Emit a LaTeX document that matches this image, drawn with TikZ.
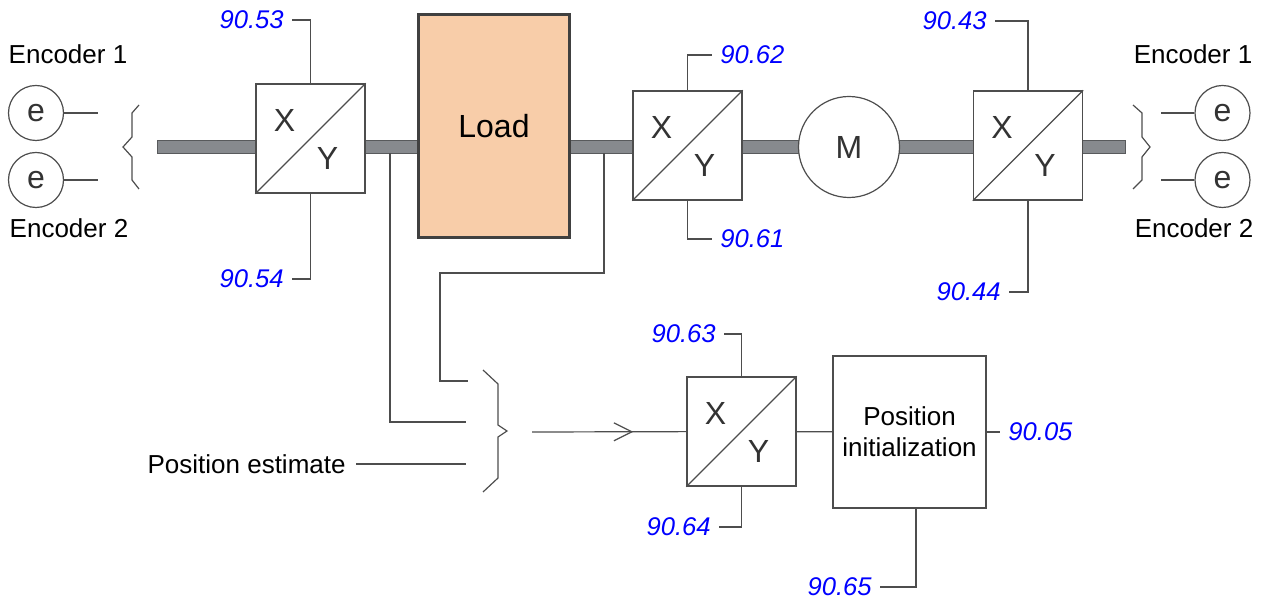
\documentclass[tikz,border=0pt]{standalone}
\usepackage{fontspec}
\setmainfont{Liberation Sans}
\usetikzlibrary{arrows.meta,decorations.markings,positioning}
\definecolor{linegray}{HTML}{4D4D4D}
\definecolor{framegray}{HTML}{404040}
\definecolor{shaftgray}{HTML}{878A8E}
\definecolor{loadfill}{HTML}{F8CDA9}
\definecolor{parblue}{HTML}{0000FF}
\definecolor{glyphgray}{HTML}{333333}

\begin{document}
\begin{tikzpicture}[x=0.5pt,y=-0.5pt,
	wire/.style={draw=linegray,line width=0.6pt},
	shaft/.style={fill=shaftgray,draw=shaftgray!65!black,line width=0.4pt},
	conv/.style={draw=linegray,fill=white,line width=0.7pt,minimum size=54.5pt,inner sep=0pt},
	enc/.style={circle,draw=linegray,fill=white,line width=0.6pt,minimum size=27.5pt,inner sep=0pt,
		text=glyphgray,font=\fontsize{16}{18}\selectfont},
	big/.style={text=glyphgray,font=\fontsize{16}{18}\selectfont,inner sep=0pt},
	lbl/.style={font=\fontsize{13}{15}\selectfont,inner sep=2pt},
	par/.style={text=parblue,font=\fontsize{12.8}{14}\selectfont\itshape,inner xsep=4pt,inner ysep=1pt}]
\useasboundingbox (0,0) rectangle (1262,603);

\draw[shaft] (157,140) rectangle (1125,153);

\node[conv] (c1) at (310.5,138.5) {};
\node[conv] (c2) at (687.5,145.5) {};
\node[conv] (c3) at (1028,145.5) {};
\node[conv] (c4) at (741.5,431.5) {};
\node[draw=framegray,fill=loadfill,line width=1.5pt,minimum width=75.5pt,minimum height=111.5pt,
	font=\fontsize{16}{18}\selectfont] (load) at (494,126) {Load};
\node[circle,draw=linegray,fill=white,line width=0.6pt,minimum size=50.5pt,inner sep=0pt,
	text=glyphgray,font=\fontsize{16}{18}\selectfont] (motor) at (849,147) {M};
\node[draw=linegray,fill=white,line width=0.7pt,minimum width=76.5pt,minimum height=76pt,
	align=center,font=\fontsize{13}{15.5}\selectfont] (init) at (909.5,432) {Position\\initialization};

\foreach \c in {c1,c2,c3,c4}{
	\draw[wire] (\c.south west) -- (\c.north east);
	\node[big] (\c x) at ([shift={(-26,-18)}]\c.center) {X};
	\node[big] (\c y) at ([shift={(17,20)}]\c.center) {Y};
}

% encoders
\node[enc] (e1) at (36,113) {e};
\node[enc] (e2) at (36,180) {e};
\node[enc] (e3) at (1222.5,113) {e};
\node[enc] (e4) at (1222.5,180) {e};
\node[lbl] (enc1l) at (68,54) {Encoder 1};
\node[lbl] (enc2l) at (69,228) {Encoder 2};
\node[lbl] (enc1r) at (1193,54) {Encoder 1};
\node[lbl] (enc2r) at (1194,228) {Encoder 2};
\coordinate (e1end) at (98,113);
\coordinate (e2end) at (98,180);
\coordinate (e3end) at (1161,113);
\coordinate (e4end) at (1161,180);
\draw[wire] (e1) -- (e1end);
\draw[wire] (e2) -- (e2end);
\draw[wire] (e3) -- (e3end);
\draw[wire] (e4) -- (e4end);
\draw[wire] (139,105) -- (132,113) -- (132,137) -- (123,147) -- (132,157) -- (132,180) -- (139,189);
\draw[wire] (1133,105) -- (1142,113) -- (1142,137) -- (1150,147) -- (1142,157) -- (1142,180) -- (1133,189);

% parameters
\node[par,anchor=east] (p9053) at (292,20) {90.53};
\node[par,anchor=east] (p9054) at (292,279) {90.54};
\node[par,anchor=west] (p9062) at (712,55) {90.62};
\node[par,anchor=west] (p9061) at (712,239) {90.61};
\node[par,anchor=east] (p9043) at (995,21) {90.43};
\node[par,anchor=east] (p9044) at (1009,292) {90.44};
\node[par,anchor=east] (p9063) at (724,334) {90.63};
\node[par,anchor=east] (p9064) at (719,527) {90.64};
\node[par,anchor=west] (p9005) at (1000,432) {90.05};
\node[par,anchor=east] (p9065) at (880,587) {90.65};
\draw[wire] (c1.north) |- (p9053);
\draw[wire] (c1.south) |- (p9054);
\draw[wire] (c2.north) |- (p9062);
\draw[wire] (c2.south) |- (p9061);
\draw[wire] (c3.north) |- (p9043);
\draw[wire] (c3.south) |- (p9044);
\draw[wire] (c4.north) |- (p9063);
\draw[wire] (c4.south) |- (p9064);
\draw[wire] (init) -- (p9005);
\draw[wire] ([xshift=3.25pt]init.south) |- (p9065);

% position selection
\node[lbl,anchor=east,inner sep=5pt] (est) at (356,464) {Position estimate};
\coordinate (tapA) at (390,153);
\coordinate (tapB) at (604,153);
\coordinate (bendB) at (440,273);
\coordinate (inA) at (466,422);
\coordinate (inB) at (468,381);
\coordinate (inC) at (466,464);
\coordinate (brout) at (532,432);
\draw[wire] (tapA) |- (inA);
\draw[wire] (tapB) |- (bendB) |- (inB);
\draw[wire] (est) -- (inC);
\draw[wire] (483,370) -- (498,384) -- (498,425) -- (507,431) -- (498,437) -- (498,478) -- (483,492);
\draw[wire,postaction=decorate,decoration={markings,
	mark=at position 0.656 with {\arrow{Straight Barb[length=9pt,width=9pt,line width=0.6pt]}}}]
	(brout) -- (c4);
\draw[wire] (c4) -- (init);
\end{tikzpicture}
\end{document}
